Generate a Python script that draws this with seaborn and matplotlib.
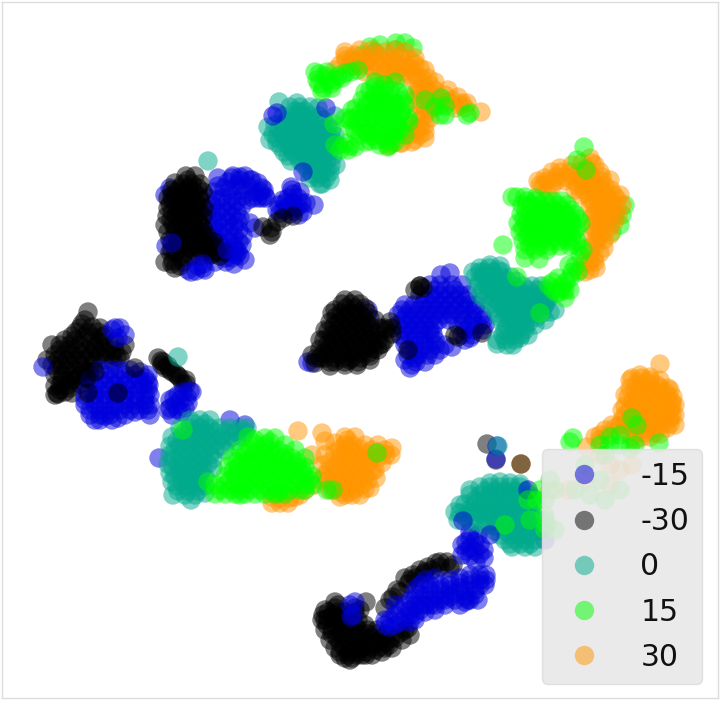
import matplotlib
matplotlib.use("Agg")
import matplotlib.pyplot as plt
import pandas as pd
import seaborn as sns

labels = ["-15", "-30", "0", "15", "30"]
colors = ["#0000dc", "#000000", "#00aa8c", "#00ff00", "#ff9600"]

# embedding coordinates
blue_a = [(232,178),(245,176),(258,183),(224,188),(236,186),(248,186),(260,192),(214,192),(222,198),(232,196),(243,196),(253,198),(262,198),
 (212,205),(222,208),(232,206),(242,206),(212,215),(222,218),(232,216),(240,218),(214,226),(224,228),(234,226),(250,223),
 (214,236),(224,238),(234,236),(243,236),(214,246),(224,248),(234,246),(172,243),(166,246),(196,271),(203,268),(188,270),(236,250),(232,258),
 (240,256),(225,258),(215,262),(242,245),(165,195),(170,188),(255,228),
 (292,190),(298,198),(288,198),(279,205),(288,207),(298,207),(306,203),(314,205),(280,213),(290,214),(299,215),(283,200),(295,208)]
blue_a_fill = [(228,182),(240,180),(252,180),(218,186),(230,190),(242,190),(254,192),(217,200),(227,202),(237,201),(248,200),(258,198),(265,196),(208,198),
 (208,210),(217,212),(227,212),(237,212),(208,220),(218,222),(228,222),(238,222),(210,230),(219,232),(229,232),(239,230),(209,240),(219,242),(229,242),(239,242),
 (219,252),(229,252),(238,252),(226,262),(212,252),(293,194),(285,203),(293,203),(302,203),(284,210),(294,211),(303,212),(291,187),(300,192),(277,210),
 (240,177),(250,180),(262,188),(264,190),(266,198),(233,176),(218,178),(245,260),(234,264)]
black_a = [(195,176),(183,184),(192,184),(200,184),(176,192),(185,192),(194,192),(203,192),(173,200),(182,200),(191,200),(200,200),(168,208),(177,208),
 (186,208),(195,208),(204,208),(167,216),(176,216),(185,216),(194,216),(203,216),(173,224),(182,224),(191,224),(200,224),(175,232),(184,232),
 (193,232),(202,232),(178,240),(187,240),(196,240),(205,240),(214,242),(180,248),(189,248),(198,248),(207,248),(216,250),(224,252),(173,261),
 (182,258),(191,256),(165,262),(200,256),(175,268),(183,262),(211,255),
 (270,235),(271,228),(277,222),(283,218),(293,216),(263,227),(272,232)]
black_a_fill = [(188,180),(180,188),(189,188),(198,188),(172,196),(181,196),(190,196),(199,196),(170,204),(179,204),(188,204),(197,204),(172,212),(181,212),(190,212),(199,212),
 (171,220),(180,220),(189,220),(198,220),(176,228),(185,228),(194,228),(203,228),(180,236),(189,236),(198,236),(207,236),(178,244),(187,244),(196,244),(205,244),(214,246),
 (176,252),(185,252),(194,252),(203,252),(212,254),(170,252),(220,256),(180,266),(172,264),(172,190),(168,198),(175,183),(165,225),(168,232),(170,240),(172,250),(186,176)]
blue_a_top = [(203,264),(205,270),(227,250),(236,255),(172,243),(191,272),(198,266)]
teal_a = [(290,107),(300,107),(310,107),(318,108),(283,116),(292,116),(301,116),(310,116),(319,116),(275,125),(284,125),(293,125),(302,125),(311,125),(320,125),(328,126),
 (273,134),(282,134),(291,134),(300,134),(309,134),(318,134),(327,134),(335,136),(277,143),(286,143),(295,143),(304,143),(313,143),(322,143),(331,143),
 (284,152),(293,152),(302,152),(311,152),(320,152),(329,152),(291,161),(300,161),(309,161),(318,161),(327,161),(308,170),(317,170),(326,170),(318,178),(326,178),(322,184),
 (279,102),(268,127),(270,140),(297,103),(208,161),(335,116)]
teal_a_fill = [(295,111),(305,111),(300,112),(287,120),(296,120),(305,120),(314,120),(323,120),(279,129),(288,129),(297,129),(306,129),(315,129),(324,129),(332,130),
 (277,138),(286,138),(295,138),(304,138),(313,138),(322,138),(331,138),(281,147),(290,147),(299,147),(308,147),(317,147),(326,147),(338,145),
 (288,156),(297,156),(306,156),(315,156),(324,156),(333,156),(304,165),(313,165),(322,165),(331,165),(312,174),(321,174),(330,172),(320,184),(310,178),(330,180),(336,165)]
blue_over_teal = [(273,116),(277,113),(326,108),(303,172)]
green_a_under = [(370,47),(380,45),(396,43),(405,43),(413,48),(375,52),(395,50),(362,55)]
orange_a = [(345,56),(352,60),(340,65),(355,55),(362,58),(370,58),(380,57),(390,60),(400,56),(410,60),(360,66),(370,66),(380,68),(390,70),(400,68),(410,68),(420,68),(418,78),
 (383,78),(393,78),(403,76),(430,85),(392,60),(375,54),(418,88),(425,95),(435,90),(445,95),(452,100),(460,105),(430,100),(415,95),(420,105),(425,115),(415,115),(425,125),
 (420,135),(410,135),(481,112),(388,146),(430,110),(440,105),(425,88),(355,66),(350,66)]
orange_a_fill = [(346,60),(358,62),(366,62),(375,62),(385,64),(395,64),(405,64),(415,64),(375,72),(385,74),(395,74),(405,72),(415,74),(422,78),(412,78),(355,62),(365,72),
 (420,92),(430,92),(440,98),(448,102),(415,100),(425,108),(435,105),(420,120),(430,118),(412,125),(420,128),(405,130),(415,130),(455,108),(462,103),(467,103),
 (335,70),(345,52),(360,50),(372,50),(385,52),(395,50),(405,52),(415,58),(425,70),(428,78),(435,82),(448,90),(458,97),(465,108),(425,132),(412,142),(400,143),(392,143),(402,143),(415,140),(425,138)]
green_a = [(319,74),(319,84),(328,80),(335,80),(322,92),(332,88),(342,78),(351,72),(358,70),(315,72),(327,72),
 (370,90),(380,90),(390,90),(362,100),(372,100),(382,100),(392,100),(402,100),(356,108),(366,108),(376,108),(386,108),(396,108),(402,112),(352,118),(362,118),(372,118),(382,118),(392,118),
 (362,128),(372,128),(382,128),(392,128),(372,136),(382,136),(392,136),(396,132),(380,95),(375,82),(395,82),
 (425,100),(440,115),(445,106),(441,98),(435,107),(445,115),(467,115),(470,113),(345,118),(352,128),(367,133),(350,146),(334,124),(335,145),(340,150),(348,150),(355,147),(345,143),
 (405,135),(388,147),(409,122)]
green_a_fill = [(375,95),(385,95),(367,104),(377,104),(387,104),(397,104),(361,113),(371,113),(381,113),(391,113),(401,113),(357,123),(367,123),(377,123),(387,123),(397,123),
 (367,132),(377,132),(387,132),(397,127),(377,140),(387,140),(370,141),(395,142),(360,135),(385,85),(375,87),(325,76),(323,88),(331,84),(338,76),(317,80),(345,73),
 (405,105),(408,118),(352,110),(350,120),(355,130),(365,142),(380,145),(390,145),(400,130),(405,95),(365,92),(398,92)]

black_b = [(342,304),(351,304),(360,304),(332,313),(341,313),(350,313),(359,313),(368,313),(330,322),(339,322),(348,322),(357,322),(366,322),(328,331),(337,331),(346,331),(355,331),(364,331),(373,331),
 (324,340),(333,340),(342,340),(351,340),(360,340),(369,340),(378,340),(385,340),(320,349),(329,349),(338,349),(347,349),(356,349),(365,349),(374,349),(316,358),(325,358),(334,358),(343,358),(352,358),(361,358),(370,356),
 (330,362),(345,362),(358,362),(386,330),(390,322),(420,286),(423,288),(415,290),(458,337),(482,333),(455,335),(380,345),(392,334)]
black_b_fill = [(346,308),(355,308),(336,317),(345,317),(354,317),(363,317),(334,326),(343,326),(352,326),(361,326),(370,326),(332,335),(341,335),(350,335),(359,335),(368,335),(377,335),
 (328,344),(337,344),(346,344),(355,344),(364,344),(373,344),(382,344),(324,353),(333,353),(342,353),(351,353),(360,353),(369,353),(378,350),(320,358),(335,362),(350,360),(315,363),(385,328),
 (320,340),(312,355),(325,330),(335,310),(345,300),(355,300),(365,308),(375,320),(380,328),(370,360),(330,366),(345,365),(357,365)]
blue_b = [(441,275),(450,273),(430,285),(440,285),(452,285),(462,285),(420,295),(430,295),(440,295),(450,295),(460,295),(468,295),(405,305),(414,305),(423,305),(432,305),(441,305),(450,305),(460,305),(468,305),(476,305),
 (398,315),(407,315),(416,315),(425,315),(434,315),(443,315),(452,315),(462,315),(472,315),(482,315),(398,325),(407,325),(416,325),(425,325),(434,325),(458,325),(468,325),(478,325),(485,325),
 (400,335),(410,335),(420,335),(430,335),(433,334),(462,335),(472,335),(405,345),(415,345),(425,345),(435,345),(445,345),(408,355),(418,355),(428,355),(412,365),(410,368),(416,362),(368,310),(370,318),(308,362),(312,363),(545,305)]
blue_b_fill = [(435,290),(445,290),(455,290),(425,300),(435,300),(445,300),(455,300),(465,300),(410,310),(419,310),(428,310),(437,310),(446,310),(455,310),(465,310),(475,310),
 (403,320),(412,320),(421,320),(430,320),(439,320),(449,320),(463,320),(473,320),(483,320),(403,330),(412,330),(421,330),(430,330),(465,330),(475,330),(483,330),
 (405,340),(415,340),(425,340),(435,340),(410,350),(420,350),(430,350),(440,350),(415,358),(402,310),(405,360),(425,362),(435,355),(452,347),(465,340),(470,338)]
black_b_top = [(408,350),(392,328),(420,286)]
teal_b = [(480,268),(489,268),(498,270),(475,277),(484,277),(493,277),(502,277),(511,277),(478,286),(487,286),(496,286),(505,286),(514,286),(523,286),(532,286),(541,286),
 (480,295),(489,295),(498,295),(507,295),(516,295),(525,295),(534,295),(543,295),(548,297),(490,304),(499,304),(508,304),(517,304),(526,304),(535,304),(544,304),
 (497,313),(506,313),(515,313),(524,313),(533,313),(542,313),(502,322),(511,322),(520,322),(529,322),(505,330),(515,330),(525,330),(528,335),(497,340),(505,340),(515,340),(497,344),(513,345),(550,312),(473,272)]
teal_b_fill = [(484,272),(493,272),(502,272),(480,281),(489,281),(498,281),(507,281),(516,281),(483,290),(492,290),(501,290),(510,290),(519,290),(528,290),(537,290),(545,290),
 (485,299),(494,299),(503,299),(512,299),(521,299),(530,299),(539,299),(548,300),(495,308),(504,308),(513,308),(522,308),(531,308),(540,308),(500,317),(510,317),(519,317),(528,317),(537,317),
 (507,326),(516,326),(525,326),(503,335),(512,335),(521,335),(507,345),(520,338),(490,265),(500,266),(480,272),(555,310),(545,320),(535,325)]
green_b_under = [(615,215),(625,205),(620,225),(612,232),(622,215)]
orange_b = [(582,163),(592,163),(552,172),(561,172),(570,172),(579,172),(588,172),(600,172),(538,181),(547,181),(556,181),(565,181),(574,181),(583,181),(592,181),(601,181),
 (548,190),(575,190),(584,190),(593,190),(602,190),(611,190),(590,199),(599,199),(608,199),(617,199),(590,208),(599,208),(608,208),(617,208),(592,217),(601,217),(610,217),(618,216),
 (592,226),(601,226),(610,226),(592,235),(600,235),(597,244),(590,253),(600,253),(585,262),(595,262),(580,270),(590,270),(610,235)]
orange_b_fill = [(587,168),(556,177),(565,177),(574,177),(583,177),(592,177),(602,177),(543,186),(552,186),(578,186),(587,186),(596,186),(605,186),(580,195),(588,195),(597,195),(606,195),(614,195),
 (594,204),(603,204),(612,204),(595,213),(604,213),(613,213),(596,222),(605,222),(614,222),(596,231),(605,231),(596,240),(604,240),(590,262),(594,258),(596,268),(585,272),(588,248),(604,248),
 (560,168),(572,165),(590,158),(595,165),(610,180),(620,195),(622,205),(545,178),(540,185)]
green_b = [(517,197),(525,197),(536,198),(522,205),(531,205),(540,205),(549,205),(558,205),(567,205),(521,214),(530,214),(539,214),(548,214),(557,214),(566,214),(575,214),
 (518,223),(527,223),(536,223),(545,223),(554,223),(563,223),(572,223),(581,223),(520,232),(529,232),(538,232),(547,232),(556,232),(565,232),(574,232),
 (523,241),(532,241),(541,241),(550,241),(559,241),(568,241),(577,241),(525,250),(535,250),(547,250),(525,258),(539,259),(503,245),(583,250),(580,255),
 (548,285),(558,278),(566,282),(572,272),(578,272),(565,290),(557,293),(565,298),(569,265),(540,313),(517,277),(584,147),(586,170),(577,160),(512,197)]
green_b_fill = [(527,201),(536,201),(545,201),(553,201),(562,201),(526,210),(535,210),(544,210),(553,210),(562,210),(571,210),(524,219),(533,219),(542,219),(551,219),(560,219),(569,219),(578,219),
 (523,228),(532,228),(541,228),(550,228),(559,228),(568,228),(577,228),(527,237),(536,237),(545,237),(554,237),(563,237),(572,237),(530,246),(540,246),(550,246),(560,246),(570,246),(578,246),
 (553,282),(562,286),(570,278),(575,266),(560,292),(570,290),(553,290)]

black_c = [(88,312),(85,320),(80,328),(72,336),(88,332),(98,332),(60,345),(70,345),(80,345),(90,342),(100,342),(110,345),(55,355),(64,355),(73,355),(82,355),(91,355),(100,355),(112,355),(122,352),
 (52,365),(60,365),(70,365),(80,365),(90,372),(55,375),(63,375),(73,375),(85,378),(60,385),(68,385),(75,380),(55,395),(58,394),(65,392),(118,393),(80,376),(88,372),(52,345),(47,360),
 (161,361),(165,368),(172,372),(180,378),(183,384),(158,358),(168,366),(176,374),(186,380),(163,362)]
black_c_fill = [(82,324),(92,327),(76,332),(84,337),(93,337),(103,337),(65,340),(75,340),(95,347),(105,348),(115,350),(60,350),(69,350),(78,350),(87,350),(96,350),(106,352),(117,357),(125,345),
 (58,360),(67,360),(76,360),(85,360),(94,360),(104,360),(113,362),(57,370),(66,370),(75,370),(84,370),(93,365),(62,380),(71,380),(80,384),(60,390),(70,388),
 (162,365),(170,370),(178,376),(186,384),(105,335),(115,342),(100,328),(55,386),(72,393),(120,358)]
blue_c = [(105,375),(115,375),(125,375),(135,375),(145,378),(95,385),(105,385),(115,385),(125,385),(135,385),(143,385),(149,385),(85,395),(95,395),(105,395),(115,395),(125,395),(135,395),(145,395),(150,395),
 (85,405),(95,405),(105,405),(115,405),(125,405),(135,405),(145,405),(150,405),(90,415),(100,415),(110,415),(125,415),(135,412),(150,415),(100,420),(112,420),
 (115,328),(125,335),(118,338),(112,330),(120,328),(43,367),
 (190,391),(192,392),(178,395),(187,397),(170,400),(180,400),(188,403),(168,410),(178,410),(172,415),(159,458),(230,420),(245,425)]
blue_c_fill = [(100,370),(110,370),(120,370),(130,370),(140,372),(148,375),(90,380),(100,380),(110,380),(120,380),(130,380),(140,380),(148,382),(88,390),(98,390),(108,390),(118,390),(128,390),(138,390),(148,390),
 (85,400),(95,400),(105,400),(115,400),(125,400),(135,400),(145,400),(90,410),(100,410),(110,410),(120,410),(130,410),(140,410),(148,410),(95,420),(105,416),(118,418),
 (183,392),(174,398),(185,408),(175,405),(170,408),(182,412)]
black_c_top = [(118,393),(88,393),(57,393),(135,368),(87,378),(95,372)]
teal_c = [(190,420),(200,420),(210,420),(180,428),(190,428),(200,428),(210,428),(220,428),(230,428),(240,428),(247,428),(172,437),(182,437),(192,437),(202,437),(212,437),(222,437),(232,437),(242,437),
 (170,446),(180,446),(190,446),(200,446),(210,446),(220,446),(170,455),(180,455),(190,455),(200,455),(210,455),(168,464),(178,464),(188,464),(198,464),(208,464),(170,473),(180,473),(190,473),(200,473),
 (172,482),(182,482),(192,482),(200,482),(178,491),(188,491),(198,491),(173,495),(191,500),(178,357)]
teal_c_fill = [(195,424),(205,424),(185,432),(195,432),(205,432),(215,432),(225,432),(235,432),(245,432),(177,441),(187,441),(197,441),(207,441),(217,441),(227,441),(237,441),
 (175,450),(185,450),(195,450),(205,450),(215,450),(225,450),(173,459),(183,459),(193,459),(203,459),(213,459),(173,468),(183,468),(193,468),(203,468),(213,468),
 (175,477),(185,477),(195,477),(205,477),(177,486),(187,486),(197,486),(205,486),(185,495),(195,495),(205,493)]
orange_c = [(345,445),(352,445),(335,453),(345,453),(355,453),(365,453),(330,462),(340,462),(350,462),(360,462),(370,462),(328,471),(338,471),(348,471),(360,471),(372,471),(328,480),(338,480),(348,480),(358,480),(368,480),
 (335,489),(345,489),(355,489),(365,489),(345,495),(352,495),(322,433),(298,431),(325,441),(378,445),(385,450),(392,448),(391,455),(382,463),(378,458),
 (272,497),(280,503),(288,503),(295,497),(305,490),(315,485),(320,480),(312,455)]
orange_c_fill = [(340,449),(350,449),(360,449),(340,458),(350,458),(360,458),(370,458),(335,467),(345,467),(355,467),(365,467),(335,476),(345,476),(355,476),(365,476),(375,470),
 (332,485),(342,485),(352,485),(362,485),(340,492),(350,492),(348,440),(378,452),(386,455),(280,498),(290,498),(300,495),(272,503),
 (330,490),(340,497),(360,495),(370,488),(376,478),(325,475),(322,465),(325,455),(372,450),(365,445),(335,443),(345,437),(355,437)]
green_c = [(270,442),(248,437),(240,450),(250,450),(260,450),(270,450),(278,450),(232,458),(242,458),(252,458),(262,458),(272,458),(282,458),(292,458),(228,467),(238,467),(248,467),(258,467),(268,467),(278,467),(288,467),(298,467),(305,467),
 (225,476),(235,476),(245,476),(255,476),(265,476),(275,476),(285,476),(295,476),(305,476),(312,476),(215,485),(225,485),(235,485),(245,485),(255,485),(265,485),(275,485),(285,485),(295,485),(305,485),(312,485),
 (215,494),(225,494),(235,494),(245,494),(255,494),(265,494),(275,494),(285,494),(300,490),(183,430),(327,490),(333,490),(208,482)]
green_c_fill = [(245,454),(255,454),(265,454),(275,454),(285,454),(237,462),(247,462),(257,462),(267,462),(277,462),(287,462),(297,462),(233,471),(243,471),(253,471),(263,471),(273,471),(283,471),(293,471),(303,471),
 (230,480),(240,480),(250,480),(260,480),(270,480),(280,480),(290,480),(300,480),(310,480),(220,490),(230,490),(240,490),(250,490),(260,490),(270,490),(280,490),(290,490),(305,490),(265,445),(255,444),(240,495),
 (255,440),(265,438),(275,438),(285,445),(295,450),(305,458)]
green_c_top = [(377,453),(240,487),(278,493)]

black_d = [(328,612),(338,612),(328,618),(337,618),(346,618),(358,620),(327,625),(336,625),(345,625),(355,625),(365,625),(332,634),(341,634),(350,634),(359,634),(368,634),(377,634),(386,634),
 (340,643),(349,643),(358,643),(367,643),(376,643),(385,643),(395,638),(405,630),(340,652),(349,652),(358,652),(367,652),(376,650),(385,648),(345,658),(352,658),(366,602),(360,610),(355,608),
 (410,580),(413,575),(420,570),(428,567),(436,563),(447,562),(453,565),(405,578),(425,572),(440,567),(397,590),(393,597),(385,608),(390,600),(400,592),(408,628)]
black_d_fill = [(333,615),(342,620),(332,630),(341,630),(350,630),(359,630),(368,630),(377,630),(337,638),(346,638),(355,638),(364,638),(373,638),(382,638),(391,638),(400,633),
 (344,647),(353,647),(362,647),(371,647),(380,647),(389,645),(348,655),(357,655),(366,655),(340,622),(325,620),(335,608),(323,615),(345,612),(338,605),
 (408,584),(416,578),(424,574),(432,570),(440,562),(450,568),
 (322,620),(325,630),(330,640),(335,648),(340,655),(350,660),(362,655),(372,655),(382,652),(392,648),(402,640),(355,612),(335,602),(325,610),(410,635),(360,648)]
blue_d = [(470,538),(480,545),(470,548),(480,554),(470,556),(484,558),(462,555),(462,545),(476,562),(415,590),(425,580),(435,578),(450,580),(460,578),(470,575),(480,575),(486,575),
 (410,600),(420,595),(430,590),(440,590),(450,590),(460,588),(470,585),(480,585),(486,580),(400,610),(410,610),(420,605),(430,600),(440,600),(450,597),(465,597),(475,595),(405,618),(415,615),(425,612),(435,610),(445,605),
 (395,625),(410,622),(385,625),(390,620),(468,600),(350,605),(353,615),(351,617),(390,627),(395,605),(355,602),(541,530),(545,540),(420,585)]
blue_d_fill = [(466,542),(475,542),(466,551),(475,551),(484,550),(470,532),(478,535),(430,585),(440,585),(450,585),(460,583),(470,580),(480,580),(415,598),(425,595),(435,595),(445,595),(455,593),(465,590),(475,590),(485,585),
 (405,605),(415,605),(425,605),(435,605),(445,600),(455,600),(465,602),(410,615),(420,610),(430,605),(395,615),(400,622),(415,620),(385,620),(470,600),(460,605),(478,600)]
teal_d = [(480,487),(490,487),(500,487),(510,487),(520,487),(470,495),(480,495),(490,495),(500,495),(510,495),(520,495),(530,495),(465,504),(475,504),(485,504),(495,504),(505,504),(515,504),(525,504),(533,504),
 (460,513),(470,513),(480,513),(490,513),(500,513),(510,513),(520,513),(530,513),(478,522),(488,522),(498,522),(510,522),(520,522),(530,522),(495,531),(505,531),(515,531),(525,531),(535,531),
 (505,540),(515,540),(525,540),(535,540),(512,547),(525,547),(535,547),(458,520),(545,520)]
teal_d_fill = [(485,491),(495,491),(505,491),(515,491),(525,491),(475,500),(485,500),(495,500),(505,500),(515,500),(525,500),(533,498),(470,509),(480,509),(490,509),(500,509),(510,509),(520,509),(530,509),
 (465,517),(475,517),(485,517),(495,517),(505,517),(515,517),(525,517),(535,517),(485,526),(495,526),(505,526),(515,526),(525,526),(535,526),(500,535),(510,535),(520,535),(530,535),(510,544),(520,544),(530,544),
 (490,483),(500,482),(510,483),(520,484),(470,490),(460,505),(455,512),(470,522)]
blue_d_top = [(463,521),(528,490),(490,535)]
green_d = [(537,500),(540,490),(545,500),(545,515),(555,490),(545,530),(555,530),(550,480),(547,525),(530,520),(528,500),(505,525),(573,438),(570,442),(600,445),(610,445),(620,445),(635,445),(610,437),(620,435),(605,455),
 (585,465),(600,480),(590,495),(605,500),(620,490),(575,490),(630,448)]
orange_d = [(632,378),(642,378),(650,380),(630,388),(640,388),(650,388),(660,388),(668,388),(628,397),(638,397),(648,397),(658,397),(668,397),(673,397),(625,406),(635,406),(645,406),(655,406),(665,406),(672,406),
 (625,415),(635,415),(645,415),(655,415),(665,415),(672,415),(632,424),(642,424),(652,424),(662,424),(670,424),(625,433),(635,433),(645,433),(655,433),(660,434),(660,364),(612,425),(605,430),(600,435),(595,437),(587,447),
 (620,425),(635,440),(632,465),(600,455),(610,465),(620,470),(610,485),(585,480),(568,490),(550,490)]
orange_d_fill = [(637,383),(647,383),(657,385),(635,392),(645,392),(655,392),(665,392),(633,401),(643,401),(653,401),(663,401),(672,402),(630,410),(640,410),(650,410),(660,410),(670,410),
 (630,419),(640,419),(650,419),(660,419),(670,419),(637,428),(647,428),(657,428),(667,428),(632,437),(642,437),(650,437),(625,425),(615,428),(608,435),(600,440),
 (640,375),(650,377),(660,380),(670,390),(675,405),(675,415),(675,425),(630,380),(625,395),(622,410),(622,420)]
green_d_top = [(637,425),(632,418),(659,443)]
strays_black = [(487,444),(496,460),(521,464)]
strays_blue = [(497,446),(496,459)]
strays_teal = [(498,446)]
strays_orange = [(521,464)]

parts = [("-15", blue_a), ("-15", blue_a_fill), ("-30", black_a), ("-30", black_a_fill), ("-15", blue_a_top),
         ("0", teal_a), ("0", teal_a_fill), ("-15", blue_over_teal), ("15", green_a_under), ("30", orange_a), ("30", orange_a_fill), ("15", green_a), ("15", green_a_fill),
         ("-15", blue_b), ("-15", blue_b_fill), ("-30", black_b), ("-30", black_b_fill), ("-30", black_b_top), ("0", teal_b), ("0", teal_b_fill),
         ("15", green_b_under), ("30", orange_b), ("30", orange_b_fill), ("15", green_b), ("15", green_b_fill),
         ("-30", black_c), ("-30", black_c_fill), ("-15", blue_c), ("-15", blue_c_fill), ("-30", black_c_top), ("0", teal_c), ("0", teal_c_fill),
         ("30", orange_c), ("30", orange_c_fill), ("15", green_c), ("15", green_c_fill), ("15", green_c_top),
         ("-30", black_d), ("-30", black_d_fill), ("-15", blue_d), ("-15", blue_d_fill), ("0", teal_d), ("0", teal_d_fill), ("-15", blue_d_top),
         ("30", orange_d), ("30", orange_d_fill), ("15", green_d), ("15", green_d_top),
         ("30", strays_orange), ("-30", strays_black), ("-15", strays_blue), ("0", strays_teal)]

rows = [(x, y, lab) for lab, pts in parts for x, y in pts]
df = pd.DataFrame(rows, columns=["x", "y", "label"])

sns.set_theme(style="white")
fig = plt.figure(figsize=(7.2, 7.02), dpi=100)
ax = fig.add_axes([2/720, 1 - 698/702, 716/720, 696/702])
sns.scatterplot(data=df, x="x", y="y", hue="label", hue_order=labels,
                palette=dict(zip(labels, colors)), s=195, alpha=0.5,
                linewidth=0, ax=ax, legend="full")
ax.set_xlim(2, 718)
ax.set_ylim(698, 2)
ax.set_xticks([]); ax.set_yticks([])
ax.set_xlabel(""); ax.set_ylabel("")
for sp in ax.spines.values():
    sp.set_color("#dddddd"); sp.set_linewidth(1)

leg = ax.legend(loc="lower right", bbox_to_anchor=(0.9777, 0.0195), borderaxespad=0,
                fontsize=21.5, frameon=True, facecolor="#e8e8e8", edgecolor="#dddddd",
                framealpha=0.88, shadow=False, fancybox=True, markerscale=1.0,
                labelspacing=0.545, handletextpad=0.88, borderpad=0.42)
for t in leg.get_texts():
    t.set_color("#111111")
fig.savefig("out.png", dpi=100)
